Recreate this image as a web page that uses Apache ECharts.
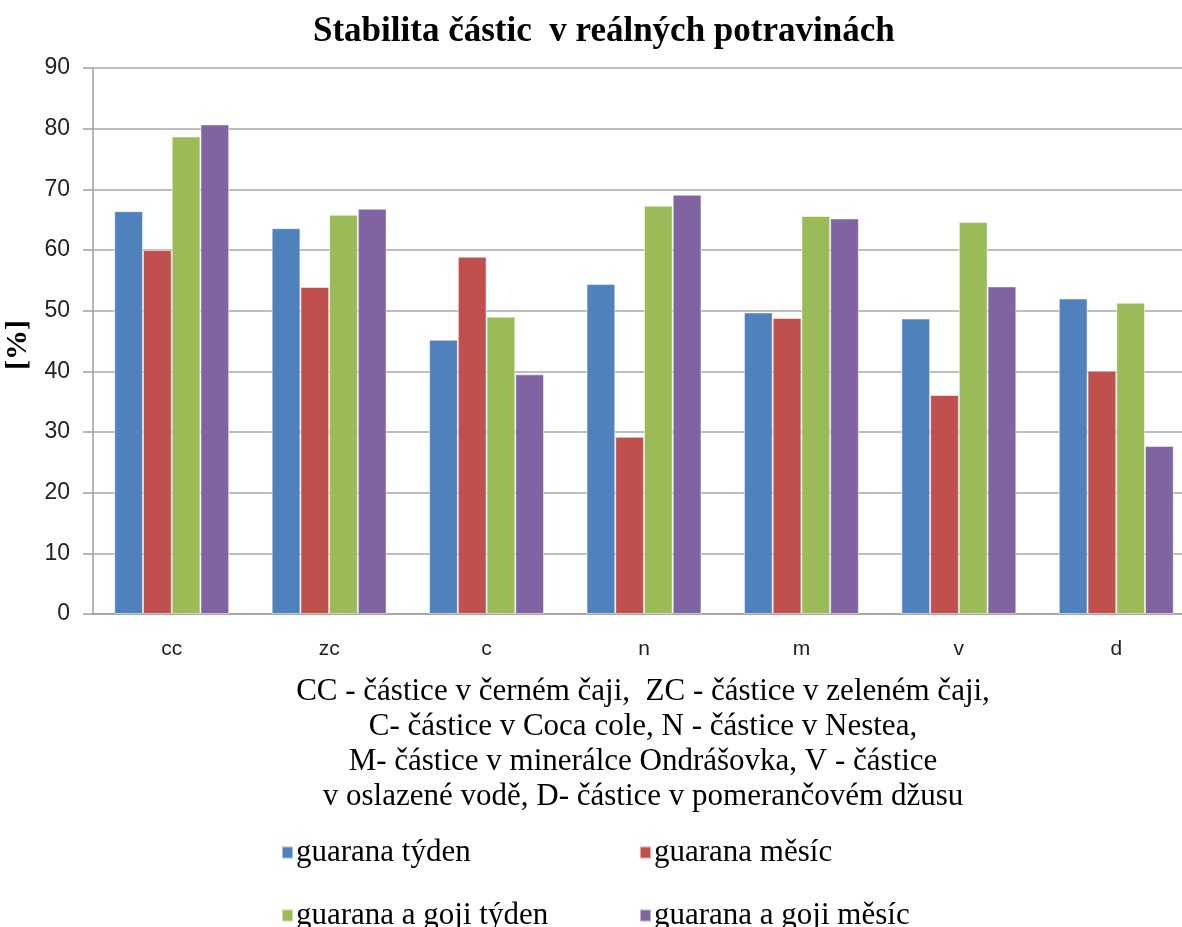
<!DOCTYPE html>
<html>
<head>
<meta charset="utf-8">
<script src="https://cdn.jsdelivr.net/npm/echarts@6/dist/echarts.min.js"></script>
<style>
  html, body { margin: 0; padding: 0; background: #fff; overflow: hidden; }
  #chart { width: 1182px; height: 927px; }
</style>
</head>
<body>
<div id="chart"></div>
<script>
  // kategorie (druh potraviny)
  var categories = ['cc', 'zc', 'c', 'n', 'm', 'v', 'd'];
  var seriesNames = ['guarana týden', 'guarana měsíc', 'guarana a goji týden', 'guarana a goji měsíc'];

  // hodnoty [%]
  var guaranaTyden = [66.4, 63.6, 45.2, 54.4, 49.7, 48.7, 52.0];
  var guaranaMesic = [60.0, 53.9, 58.9, 29.2, 48.8, 36.1, 40.1];
  var gojiTyden = [78.7, 65.8, 49.0, 67.3, 65.6, 64.6, 51.3];
  var gojiMesic = [80.7, 66.8, 39.5, 69.1, 65.2, 54.0, 27.7];

  var yTicks = [0, 10, 20, 30, 40, 50, 60, 70, 80, 90];

  var colors = ['#4F81BD', '#C0504D', '#9BBB59', '#8064A2'];
  var serif = '"Liberation Serif", "Times New Roman", serif';
  var sans = '"Liberation Sans", Arial, sans-serif';

  var axisNote = 'CC - částice v černém čaji,  ZC - částice v zeleném čaji,\n' +
    'C- částice v Coca cole, N - částice v Nestea,\n' +
    'M- částice v minerálce Ondrášovka, V - částice\n' +
    'v oslazené vodě, D- částice v pomerančovém džusu';

  var myChart = echarts.init(document.getElementById('chart'));

  function legendAt(name, left, top) {
    return {
      data: [name],
      left: left,
      top: top,
      itemWidth: 11,
      itemHeight: 12,
      itemGap: 0,
      icon: 'rect',
      textStyle: { fontFamily: serif, fontSize: 31, color: '#000', padding: [0, 0, 0, -2] }
    };
  }

  function barSeries(name, data, i) {
    return {
      name: name,
      type: 'bar',
      data: data,
      barGap: '0%',
      barCategoryGap: '27%',
      itemStyle: { color: colors[i], borderColor: 'rgba(255,255,255,0.5)', borderWidth: 1 }
    };
  }

  var option = {
    animation: false,
    backgroundColor: '#fff',
    color: colors,
    title: {
      text: 'Stabilita částic  v reálných potravinách',
      left: 308,
      top: 9,
      textStyle: { fontFamily: serif, fontWeight: 'bold', fontSize: 35, color: '#000' }
    },
    legend: [
      legendAt(seriesNames[0], 276, 832),
      legendAt(seriesNames[1], 634, 832),
      legendAt(seriesNames[2], 276, 895),
      legendAt(seriesNames[3], 634, 895)
    ],
    // plocha grafu v originále přesahuje pravý okraj obrázku
    grid: {
      left: 93,
      top: 68,
      width: 1102,
      bottom: 313,
      outerBoundsMode: 'none'
    },
    xAxis: {
      type: 'category',
      data: categories,
      axisTick: { show: false },
      axisLine: { lineStyle: { color: '#a0a0a0', width: 1.5 } },
      axisLabel: { fontFamily: sans, fontSize: 21, color: '#222', margin: 25 },
      name: axisNote,
      nameLocation: 'middle',
      nameGap: 60,
      nameTextStyle: { fontFamily: serif, fontSize: 31, color: '#000', lineHeight: 35, padding: [0, 0, 0, -2] }
    },
    yAxis: {
      type: 'value',
      min: yTicks[0],
      max: yTicks[yTicks.length - 1],
      interval: yTicks[1] - yTicks[0],
      name: '[%]',
      nameLocation: 'middle',
      nameGap: 47,
      nameTextStyle: { fontFamily: serif, fontWeight: 'bold', fontSize: 30, color: '#000', padding: [0, 0, 0, -8] },
      axisLine: { show: true, lineStyle: { color: '#a0a0a0', width: 1.5 } },
      axisTick: { show: true, length: 10, lineStyle: { color: '#a0a0a0', width: 1.5 } },
      axisLabel: { fontFamily: sans, fontSize: 23, color: '#222', margin: 23 },
      splitLine: { lineStyle: { color: '#a8a8a8', width: 1.5 } }
    },
    series: [
      barSeries(seriesNames[0], guaranaTyden, 0),
      barSeries(seriesNames[1], guaranaMesic, 1),
      barSeries(seriesNames[2], gojiTyden, 2),
      barSeries(seriesNames[3], gojiMesic, 3)
    ]
  };

  myChart.setOption(option);
</script>
</body>
</html>
